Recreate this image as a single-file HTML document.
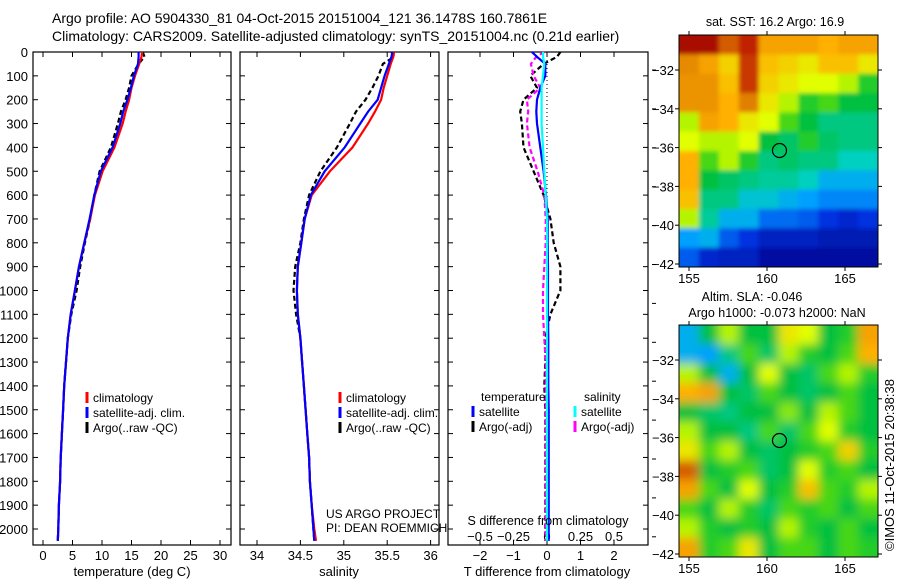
<!DOCTYPE html>
<html><head><meta charset="utf-8"><style>
html,body{margin:0;padding:0;background:#fff}
svg{display:block;font-family:"Liberation Sans",sans-serif}
text{fill:#000}
</style></head><body>
<svg id="fig" width="900" height="580" viewBox="0 0 900 580">
<defs>
<filter id="blur" x="0" y="0" width="1" height="1"><feGaussianBlur stdDeviation="5"/></filter>
<filter id="blur2" x="0" y="0" width="1" height="1"><feGaussianBlur stdDeviation="2"/></filter>
<clipPath id="clipSla"><rect x="679" y="325" width="199" height="232"/></clipPath>
<clipPath id="clipSst"><rect x="679" y="35" width="199" height="232"/></clipPath>
</defs>
</svg>
<script>
// ---------- DATA ----------
const depths = [0,20,50,100,150,200,250,300,400,500,600,700,800,900,1000,1100,1200,1300,1400,1500,1600,1700,1800,1900,2000,2050];
const tempClim = [16.8,16.7,16.3,15.6,15.0,14.6,14.0,13.5,12.1,10.1,8.8,8.0,7.0,6.1,5.4,4.7,4.2,3.9,3.6,3.4,3.2,3.0,2.9,2.7,2.6,2.5];
const tempSat  = [16.2,16.2,16.1,15.4,14.9,14.3,13.6,13.1,11.8,9.8,8.7,7.9,7.0,6.1,5.4,4.7,4.2,3.9,3.6,3.4,3.2,3.0,2.9,2.7,2.6,2.5];
const tempArgo = [16.9,17.2,16.2,15.0,14.6,14.0,13.2,12.7,11.5,9.6,8.7,8.0,7.1,6.3,5.7,4.8,4.2,3.9,3.6,3.4,3.2,3.0,2.9,2.7,2.6,2.5];
const salClim = [35.58,35.57,35.54,35.50,35.46,35.43,35.36,35.28,35.10,34.84,34.63,34.55,34.51,34.47,34.46,34.47,34.50,34.52,34.54,34.56,34.58,34.60,34.61,34.63,34.66,34.68];
const salSat  = [35.56,35.55,35.52,35.47,35.43,35.39,35.28,35.19,35.01,34.78,34.62,34.55,34.51,34.47,34.46,34.47,34.50,34.52,34.54,34.56,34.58,34.60,34.61,34.63,34.65,34.66];
const salArgo = [35.55,35.58,35.45,35.40,35.33,35.25,35.14,35.07,34.92,34.73,34.60,34.54,34.50,34.44,34.42,34.45,34.50,34.52,34.54,34.56,34.58,34.60,34.61,34.63,34.65,34.66];
const tDiffSat  = [-0.45,-0.3,-0.05,-0.05,-0.2,-0.3,-0.32,-0.3,-0.2,-0.1,-0.03,0.02,0.02,0.03,0.03,0.03,0.04,0.04,0.04,0.05,0.05,0.05,0.05,0.05,0.05,0.05];
const tDiffArgo = [0.4,0.3,-0.1,-0.5,-0.3,-0.7,-0.8,-0.75,-0.7,-0.4,-0.1,0.1,0.2,0.4,0.4,0.1,-0.05,-0.05,-0.08,-0.05,-0.05,-0.05,-0.05,-0.05,-0.05,-0.05];
const sDiffSat  = [-0.03,-0.03,-0.02,-0.03,-0.04,-0.04,-0.04,-0.04,-0.03,-0.02,-0.01,0.0,0.0,0.0,0.0,0.0,0.0,0.0,0.0,0.0,0.0,0.0,0.0,0.0,0.0,0.0];
const sDiffArgo = [-0.02,-0.08,-0.12,-0.1,-0.05,-0.15,-0.14,-0.15,-0.13,-0.07,-0.02,-0.01,-0.01,-0.02,-0.03,-0.03,-0.02,-0.01,-0.01,-0.01,-0.01,-0.01,-0.01,-0.01,-0.01,-0.01];
const depthTicks = [0,100,200,300,400,500,600,700,800,900,1000,1100,1200,1300,1400,1500,1600,1700,1800,1900,2000];
const tempTicks = [0,5,10,15,20,25,30];
const salTicks = [34,34.5,35,35.5,36];
const salTickLabels = ["34","34.5","35","35.5","36"];
const tdTicks = [-2,-1,0,1,2];
const sdTicks = [-0.5,-0.25,0,0.25,0.5];
const sdTickLabels = ["\u22120.5","\u22120.25","0","0.25","0.5"];
const lonTicks = [155,160,165];
const latTicks = [-32,-34,-36,-38,-40,-42];
const argoLon = 160.8, argoLat = -36.15;
const sstGrid = [
[0.95,0.95,0.85,0.9,0.75,0.75,0.75,0.72,0.75,0.75],
[0.8,0.75,0.68,0.88,0.7,0.68,0.65,0.7,0.7,0.65],
[0.78,0.78,0.7,0.88,0.68,0.65,0.62,0.62,0.6,0.5],
[0.78,0.78,0.72,0.82,0.65,0.6,0.5,0.55,0.45,0.45],
[0.6,0.75,0.72,0.65,0.62,0.55,0.45,0.4,0.4,0.4],
[0.62,0.6,0.6,0.62,0.45,0.42,0.5,0.42,0.4,0.4],
[0.72,0.55,0.6,0.5,0.4,0.42,0.4,0.4,0.35,0.35],
[0.72,0.45,0.42,0.4,0.38,0.38,0.35,0.3,0.3,0.3],
[0.7,0.4,0.4,0.33,0.33,0.3,0.28,0.25,0.25,0.25],
[0.6,0.38,0.3,0.3,0.22,0.22,0.2,0.15,0.12,0.15],
[0.28,0.3,0.2,0.15,0.1,0.1,0.1,0.08,0.08,0.08],
[0.2,0.12,0.1,0.1,0.05,0.05,0.05,0.05,0.05,0.05]];
const slaGrid = [
[0.3,0.45,0.6,0.45,0.45,0.65,0.62,0.45,0.5,0.75],
[0.3,0.28,0.4,0.55,0.42,0.6,0.5,0.45,0.55,0.72],
[0.6,0.45,0.3,0.45,0.62,0.45,0.42,0.55,0.6,0.5],
[0.72,0.75,0.45,0.42,0.55,0.45,0.42,0.45,0.55,0.45],
[0.45,0.42,0.4,0.45,0.45,0.58,0.45,0.6,0.55,0.45],
[0.6,0.45,0.45,0.4,0.55,0.42,0.55,0.62,0.5,0.45],
[0.65,0.55,0.6,0.45,0.42,0.45,0.5,0.55,0.68,0.5],
[0.85,0.45,0.5,0.55,0.42,0.45,0.62,0.5,0.55,0.45],
[0.75,0.55,0.45,0.62,0.45,0.5,0.7,0.55,0.5,0.6],
[0.55,0.45,0.6,0.5,0.42,0.55,0.5,0.55,0.45,0.55],
[0.6,0.5,0.45,0.5,0.45,0.6,0.5,0.45,0.55,0.45],
[0.75,0.5,0.55,0.65,0.45,0.55,0.55,0.45,0.55,0.5]];

// ---------- helpers ----------
const svg = document.getElementById('fig');
const NS = 'http://www.w3.org/2000/svg';
function mk(tag, attrs, parent){const e=document.createElementNS(NS,tag);for(const k in attrs)e.setAttribute(k,attrs[k]);(parent||svg).appendChild(e);return e;}
function txt(s,x,y,anchor,size,parent){const t=mk('text',{x:x,y:y,'text-anchor':anchor||'start','font-size':size||13},parent);t.textContent=s;return t;}
const yD = d => 52 + d*0.2385;
const xT = v => 43 + v*5.9;
const xS = v => 257 + (v-34)*86.8;
const xTD = v => 547 + v*33.5;
const xSD = v => 547 + v*134;
const PT = 52, PB = 545;

let e;
e=txt('Argo profile: AO 5904330_81 04-Oct-2015 20151004_121 36.1478S 160.7861E',52,23,'start',14);


e=txt('Climatology: CARS2009. Satellite-adjusted climatology: synTS_20151004.nc (0.21d earlier)',52,41,'start',14);



function panel(name,x0,x1){
  const g=mk('g',{});
  
  
  mk('rect',{x:x0,y:PT,width:x1-x0,height:PB-PT,fill:'#fff',stroke:'#000','stroke-width':1.2},g);
  depthTicks.forEach(d=>{
    mk('line',{x1:x0,x2:x0+5,y1:yD(d),y2:yD(d),stroke:'#000'},g);
    mk('line',{x1:x1-5,x2:x1,y1:yD(d),y2:yD(d),stroke:'#000'},g);
  });
  return g;
}
function line(g,xs,fn,color,name,dash,w){
  const pts=xs.map((v,i)=>fn(v).toFixed(1)+','+yD(depths[i]).toFixed(1)).join(' ');
  const p=mk('polyline',{points:pts,fill:'none',stroke:color,'stroke-width':w||2.2},g);
  if(dash)p.setAttribute('stroke-dasharray',dash);
  
  
}
function xticks(g,ticks,labels,fn,x0,x1,ly){
  ticks.forEach((t,i)=>{
    const x=fn(t);
    mk('line',{x1:x,x2:x,y1:PB,y2:PB-5,stroke:'#000'},g);
    mk('line',{x1:x,x2:x,y1:PT,y2:PT+5,stroke:'#000'},g);
    const l=txt(labels[i],x,ly,'middle',13,g);
    
    
  });
}
function legend(g,x,y,items){
  items.forEach((it,i)=>{
    mk('line',{x1:x,x2:x,y1:y+i*15-10,y2:y+i*15+1,stroke:it[1],'stroke-width':3},g);
    const t=txt(it[0],x+6,y+i*15,'start',12,g);
    
    
  });
}

// ---- panel 1 temperature ----
const g1=panel('temperature-panel',33,231);
depthTicks.forEach(d=>{const t=txt(String(d),28,yD(d)+5,'end',13,g1);
  
  });
xticks(g1,tempTicks,tempTicks.map(String),xT,33,231,560);
line(g1,tempArgo,xT,'#000','argo-temperature-line','5,3',2.2);
line(g1,tempClim,xT,'#f00','climatology-temperature-line');
line(g1,tempSat,xT,'#00f','satellite-temperature-line');
e=txt('temperature (deg C)',132,576,'middle',13,g1);


legend(g1,87,402,[['climatology','#f00'],['satellite-adj. clim.','#00f'],['Argo(..raw -QC)','#000']]);

// ---- panel 2 salinity ----
const g2=panel('salinity-panel',240,439);
xticks(g2,salTicks,salTickLabels,xS,240,439,560);
line(g2,salArgo,xS,'#000','argo-salinity-line','5,3',2.2);
line(g2,salClim,xS,'#f00','climatology-salinity-line');
line(g2,salSat,xS,'#00f','satellite-salinity-line');
e=txt('salinity',339,576,'middle',13,g2);


legend(g2,340,402,[['climatology','#f00'],['satellite-adj. clim.','#00f'],['Argo(..raw -QC)','#000']]);
e=txt('US ARGO PROJECT',326,518,'start',12,g2);


e=txt('PI: DEAN ROEMMICH',326,532,'start',12,g2);



// ---- panel 3 differences ----
const g3=panel('difference-panel',448,648);
mk('line',{x1:547,x2:547,y1:PT,y2:PB,stroke:'#000','stroke-dasharray':'1,3'},g3);
tdTicks.forEach(t=>{const x=xTD(t);
  mk('line',{x1:x,x2:x,y1:PB,y2:PB-5,stroke:'#000'},g3);
  mk('line',{x1:x,x2:x,y1:PT,y2:PT+5,stroke:'#000'},g3);
  const l=txt(t<0?'\u2212'+(-t):String(t),x,560,'middle',13,g3);
  
  });
sdTicks.forEach((t,i)=>{const l=txt(sdTickLabels[i],xSD(t),541,'middle',13,g3);
  
  });
line(g3,tDiffArgo,xTD,'#000','argo-t-diff-line','5,3',2.2);
line(g3,sDiffArgo,xSD,'#f0f','argo-s-diff-line','5,3',2.2);
line(g3,tDiffSat,xTD,'#00f','satellite-t-diff-line');
line(g3,sDiffSat,xSD,'#0ff','satellite-s-diff-line');
e=txt('S difference from climatology',548,525,'middle',12.5,g3);


e=txt('T difference from climatology',547,576,'middle',13,g3);


txt('temperature',481,401,'start',12,g3);
txt('salinity',584,401,'start',12,g3);
legend(g3,473,416,[['satellite','#00f'],['Argo(-adj)','#000']]);
legend(g3,575,416,[['satellite','#0ff'],['Argo(-adj)','#f0f']]);
for(let y=70;y<560;y+=38.9){mk('line',{x1:652,x2:656,y1:y,y2:y,stroke:'#000'},g3);}

// ---- maps ----
const stops=[[0,[0,0,128]],[0.15,[0,48,224]],[0.28,[0,160,255]],[0.35,[0,208,192]],[0.45,[0,192,64]],[0.55,[70,215,20]],[0.62,[225,255,0]],[0.72,[255,176,0]],[0.82,[224,128,0]],[0.9,[192,32,0]],[1,[144,0,0]]];
function cmap(v){for(let i=1;i<stops.length;i++){if(v<=stops[i][0]){const a=stops[i-1],b=stops[i],f=(v-a[0])/(b[0]-a[0]);
  return 'rgb('+a[1].map((c,k)=>Math.round(c+(b[1][k]-c)*f)).join(',')+')';}}return 'rgb(144,0,0)';}
function map(name,top,bottom,grid,titles,clip,filt){
  const x0=679,x1=878;
  const lonX=l=>689+(l-155)*15.6;
  const latY=l=>top+35+(-32-l)*19.4;
  const g=mk('g',{});
  
  
  const cg=mk('g',{'clip-path':'url(#'+clip+')'},g);
  const bg=mk('g',{filter:'url(#'+filt+')'},cg);
  const rows=grid.length,cols=grid[0].length,cw=(x1-x0)/cols,ch=(bottom-top)/rows;
  // pad edges so blur doesn't fade at borders
  grid.forEach((r,i)=>r.forEach((v,j)=>{
    const ex=j===0?-12:0, ey=i===0?-12:0;
    const ew=(j===cols-1?12:0)-ex, eh=(i===rows-1?12:0)-ey;
    const c=mk('rect',{x:x0+j*cw+ex,y:top+i*ch+ey,width:cw+0.6+ew,height:ch+0.6+eh,fill:cmap(v)},bg);
    
    
  }));
  mk('rect',{x:x0,y:top,width:x1-x0,height:bottom-top,fill:'none',stroke:'#000'},g);
  lonTicks.forEach(l=>{const x=lonX(l);mk('line',{x1:x,x2:x,y1:top,y2:top-4,stroke:'#000'},g);mk('line',{x1:x,x2:x,y1:bottom,y2:bottom+4,stroke:'#000'},g);
    const t=txt(String(l),x,bottom+16,'middle',13,g);
    
    });
  latTicks.forEach(l=>{const y=latY(l);mk('line',{x1:x0,x2:x0-4,y1:y,y2:y,stroke:'#000'},g);mk('line',{x1:x1,x2:x1+4,y1:y,y2:y,stroke:'#000'},g);
    const t=txt('\u2212'+(-l),674,y+5,'end',13,g);
    
    });
  const c=mk('circle',{cx:lonX(argoLon),cy:latY(argoLat),r:7,fill:'none',stroke:'#000','stroke-width':1.2},g);
  
  
  titles.forEach(t=>{const e=txt(t[0],t[1],t[2],'middle',12.5,g);
    
    });
}
map('sst-map',35,267,sstGrid,[['sat. SST: 16.2 Argo: 16.9',775,26]],'clipSst','blur2');
map('sla-map',325,557,slaGrid,[['Altim. SLA: -0.046',752,301],['Argo h1000: -0.073 h2000: NaN',777,317]],'clipSla','blur');
e=txt('\u00a9IMOS 11-Oct-2015 20:38:38',0,0,'middle',13);
e.setAttribute('transform','translate(894,465) rotate(-90)');


</script>
</body></html>
